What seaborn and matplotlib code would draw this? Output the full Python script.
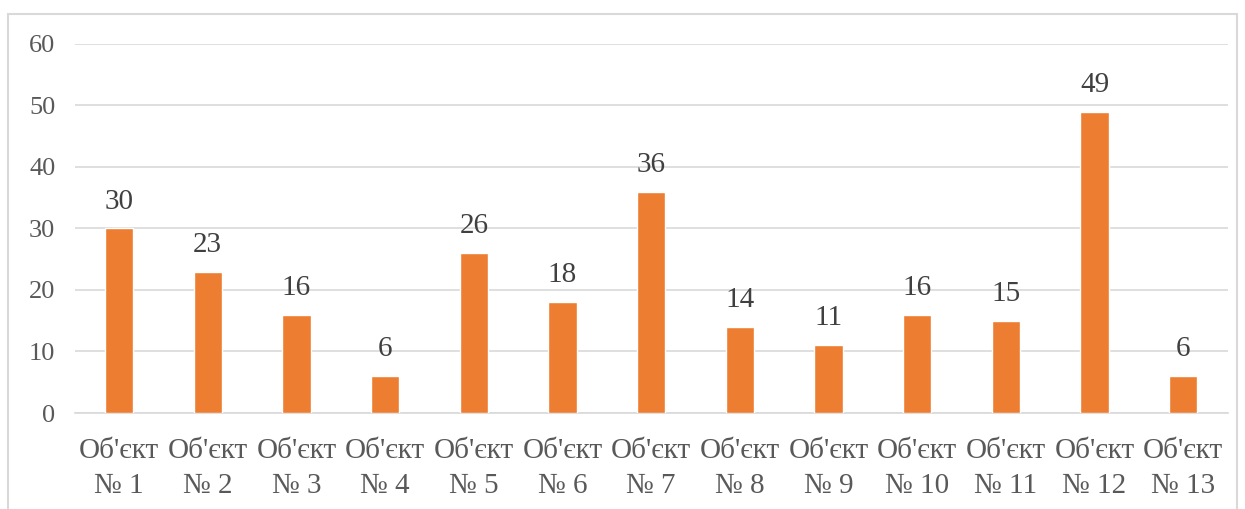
import seaborn as sns
import pandas as pd
import matplotlib.pyplot as plt
from matplotlib.patches import Rectangle

# data
objects = [f"Об'єкт\n№ {i}" for i in range(1, 14)]
values = [30, 23, 16, 6, 26, 18, 36, 14, 11, 16, 15, 49, 6]

df = pd.DataFrame({'object': objects, 'value': values})

sns.set_theme(style="white")
plt.rcParams['font.family'] = ['Liberation Serif', 'DejaVu Serif']

text_color = '#595959'
grid_color = '#D9D9D9'

fig = plt.figure(figsize=(12.45, 5.09), dpi=100)
ax = fig.add_axes([0.060, 0.1886, 0.926, 0.725])

# outer frame of the chart area
fig.patches.append(Rectangle((8 / 1245, -0.05), 1229 / 1245, 1 - 14 / 509 + 0.05,
                             transform=fig.transFigure, fill=False,
                             edgecolor=grid_color, linewidth=1.5))

sns.barplot(data=df, x='object', y='value', color='#ED7D31', width=0.32,
            saturation=1, ax=ax, zorder=3)

ax.set_ylim(0, 60)
ax.set_xlim(-0.5, 12.5)
ax.set_yticks(range(0, 61, 10))
ax.yaxis.grid(True, color=grid_color, linewidth=1.2, zorder=0)
ax.xaxis.grid(False)
for side in ['top', 'right', 'left']:
    ax.spines[side].set_visible(False)
ax.spines['bottom'].set_color(grid_color)
ax.spines['bottom'].set_linewidth(1.2)

ax.tick_params(axis='y', labelsize=19, labelcolor=text_color, length=0, pad=14)
ax.tick_params(axis='x', labelsize=21, labelcolor=text_color, length=0, pad=18)
for lbl in ax.get_xticklabels():
    lbl.set_linespacing(1.45)
ax.set_xlabel('')
ax.set_ylabel('')

for container in ax.containers:
    ax.bar_label(container, labels=[str(v) for v in values], padding=10,
                 fontsize=21, color='#404040')

plt.savefig('out.png', dpi=100)
